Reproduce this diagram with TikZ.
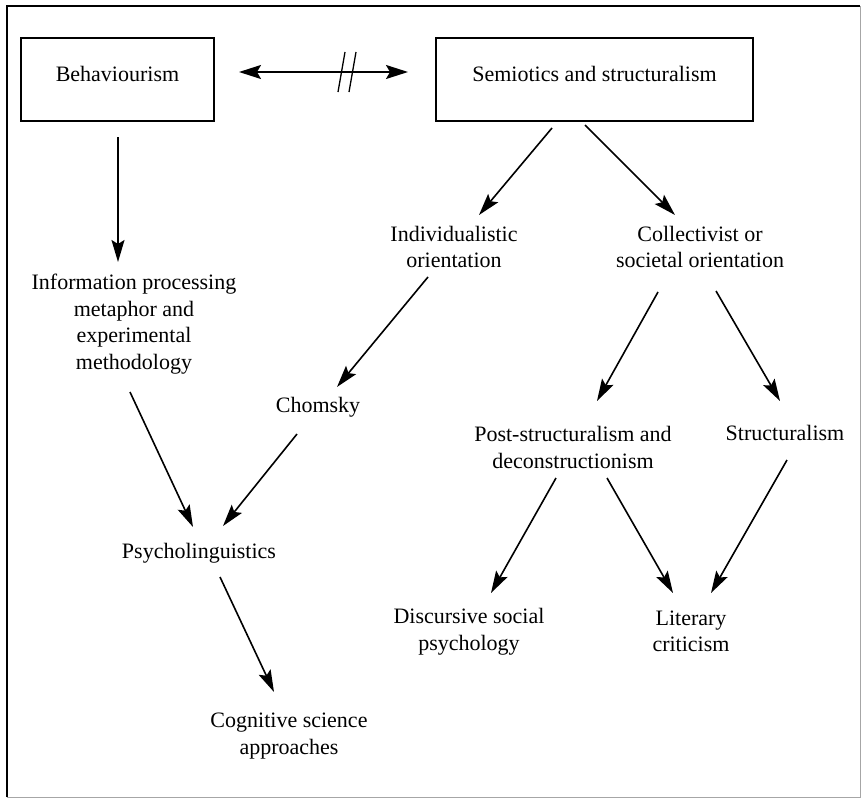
\documentclass[tikz,border=0pt]{standalone}
\usepackage{fontspec}
\setmainfont{Liberation Serif}
\usetikzlibrary{arrows.meta,calc}
\begin{document}
\begin{tikzpicture}[x=1pt,y=-1pt,
  lbl/.style={inner sep=0pt, align=center, font=\fontsize{22}{26.5}\selectfont},
  boxed/.style={draw, line width=1.7pt, inner sep=0pt, minimum width=#1,
    minimum height=83pt, text height=15pt, text depth=11pt,
    font=\fontsize{22}{26.5}\selectfont},
  arr/.style={line width=1.6pt, -{Stealth[length=22pt,width=13pt,inset=4pt]}},
  dblarr/.style={line width=1.7pt, {Stealth[length=22pt,width=14pt,inset=4pt]}-{Stealth[length=22pt,width=14pt,inset=4pt]}},
]
\useasboundingbox (0,0) rectangle (862,803);

% outer frame
\draw[line width=1.8pt] (7,797) -- (7,6) -- (860,6);
\draw[line width=1pt, black!35] (860,6) -- (860,797) -- (7,797);

% boxed headings
\node[boxed=193pt] (beh) at (117.5,79.5) {Behaviourism};
\node[boxed=317pt] (sem) at (594.5,79.5) {Semiotics and structuralism};

% plain labels
\node[lbl] (info)  at (134,324)   {Information processing\\metaphor and\\experimental\\methodology};
\node[lbl] (indiv) at (454,247)   {Individualistic\\orientation};
\node[lbl] (coll)  at (700,247)   {Collectivist or\\societal orientation};
\node[lbl] (chom)  at (318,407)   {Chomsky};
\node[lbl] (psy)   at (199,553)   {Psycholinguistics};
\node[lbl] (post)  at (573,447.5) {Post-structuralism and\\deconstructionism};
\node[lbl] (struc) at (785,433)   {Structuralism};
\node[lbl] (cog)   at (289,736)   {Cognitive science\\approaches};
\node[lbl] (disc)  at (469,631.5) {Discursive social\\psychology};
\node[lbl] (lit)   at (691,631.5) {Literary\\criticism};

% broken two-way link between the headings
\draw[dblarr] ($(beh)+(121.5,-7.5)$) -- ($(sem)+(-186.5,-7.5)$);
\coordinate (brk) at ($(beh)+(229.5,-7.5)$);
\draw[line width=1.3pt] ($(brk)+(-2,-20)$) -- ($(brk)+(-9,20)$);
\draw[line width=1.3pt] ($(brk)+(9,-20)$) -- ($(brk)+(2,20)$);

% influence arrows
\draw[arr] ($(beh)+(0.5,57.5)$)    -- ($(info)+(-16,-62)$);
\draw[arr] ($(sem)+(-42.5,48.5)$)  -- ($(indiv)+(25,-32)$);
\draw[arr] ($(sem)+(-9.5,45.5)$)   -- ($(coll)+(-25,-32)$);
\draw[arr] ($(indiv)+(-26,30)$)    -- ($(chom)+(19,-20)$);
\draw[arr] ($(coll)+(-42,45)$)     -- ($(post)+(24,-46.5)$);
\draw[arr] ($(coll)+(16,44)$)      -- ($(struc)+(-5,-32)$);
\draw[arr] ($(info)+(-4,68)$)      -- ($(psy)+(-6,-26)$);
\draw[arr] ($(chom)+(-21,27)$)     -- ($(psy)+(24,-27)$);
\draw[arr] ($(psy)+(21,24)$)       -- ($(cog)+(-15,-44)$);
\draw[arr] ($(post)+(-17,30.5)$)   -- ($(disc)+(22,-38.5)$);
\draw[arr] ($(post)+(34,30.5)$)    -- ($(lit)+(-18,-38.5)$);
\draw[arr] ($(struc)+(2,27)$)      -- ($(lit)+(20,-38.5)$);
\end{tikzpicture}
\end{document}
